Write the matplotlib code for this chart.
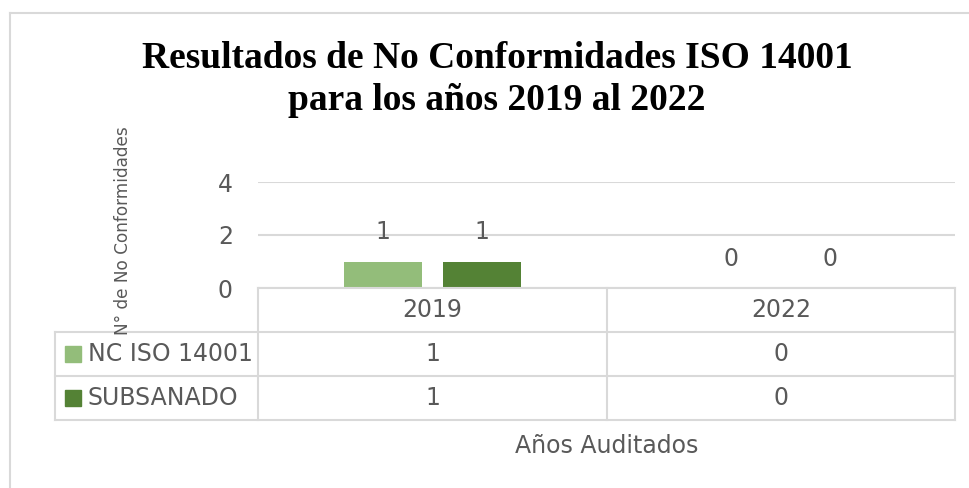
import numpy as np
import matplotlib.pyplot as plt
from matplotlib.lines import Line2D
from matplotlib.patches import Rectangle

years = ['2019', '2022']
series = ['NC ISO 14001', 'SUBSANADO']
nc_iso = [1, 0]
subsanado = [1, 0]
colors = ['#93BD7A', '#548235']
yticks = [0, 2, 4]

W, H = 970, 488
txt = '#595959'
grid = '#D9D9D9'

def fx(x):
    return x / W

def fy(y):
    return 1 - y / H

fig = plt.figure(figsize=(9.7, 4.88), dpi=100)

# plot area in pixels
left, right, top, bottom = 258, 955, 182, 288
ax = fig.add_axes([fx(left), fy(bottom), fx(right - left), (bottom - top) / H])
ax.set_xlim(-0.5, 1.5)
ax.set_ylim(0, 4)
ax.set_yticks(yticks)
ax.set_xticks([])
ax.tick_params(axis='y', length=0, pad=18, labelsize=17, labelcolor=txt)
for s in ax.spines.values():
    s.set_visible(False)
ax.grid(axis='y', color=grid, lw=1.5)
ax.set_axisbelow(True)

x = np.arange(len(years))
off = 0.142
bw = 0.224
for i, vals in enumerate([nc_iso, subsanado]):
    pos = x + (i * 2 - 1) * off
    ax.bar(pos, vals, width=bw, color=colors[i], zorder=3)
    for p, v in zip(pos, vals):
        ax.annotate(str(v), (p, v), xytext=(0, 21), textcoords='offset points',
                    ha='center', va='center', fontsize=17, color=txt)

# data table below the axes
col_x = [55, 258, 607, 955]
row_y = [288, 332, 376, 420]

def hline(y, x0, x1):
    fig.add_artist(Line2D([fx(x0), fx(x1)], [fy(y), fy(y)], color=grid, lw=1.5))

def vline(x0, y0, y1):
    fig.add_artist(Line2D([fx(x0), fx(x0)], [fy(y0), fy(y1)], color=grid, lw=1.5))

hline(row_y[0], col_x[1], col_x[3])
for y in row_y[1:]:
    hline(y, col_x[0], col_x[3])
for cx in col_x[1:]:
    vline(cx, row_y[0], row_y[3])
vline(col_x[0], row_y[1], row_y[3])

for j, yr in enumerate(years):
    cx = (col_x[j + 1] + col_x[j + 2]) / 2
    fig.text(fx(cx), fy((row_y[0] + row_y[1]) / 2), yr, ha='center', va='center',
             fontsize=17, color=txt)
for i, vals in enumerate([nc_iso, subsanado]):
    cy = (row_y[i + 1] + row_y[i + 2]) / 2
    fig.add_artist(Rectangle((fx(65), fy(cy + 8)), fx(16), 16 / H, color=colors[i]))
    fig.text(fx(88), fy(cy), series[i], ha='left', va='center', fontsize=17, color=txt)
    for j, v in enumerate(vals):
        cx = (col_x[j + 1] + col_x[j + 2]) / 2
        fig.text(fx(cx), fy(cy), str(v), ha='center', va='center', fontsize=17, color=txt)

# axis titles
fig.text(fx(607), fy(446), 'Años Auditados', ha='center', va='center', fontsize=17, color=txt)
fig.text(fx(123), fy(231), 'N° de No Conformidades', ha='center', va='center',
         rotation=90, fontsize=12.2, color=txt)

# chart title
fig.text(fx(497), fy(58), 'Resultados de No Conformidades ISO 14001', ha='center', va='center',
         fontsize=27, fontweight='bold', family='Liberation Serif', color='black')
fig.text(fx(497), fy(101), 'para los años 2019 al 2022', ha='center', va='center',
         fontsize=27, fontweight='bold', family='Liberation Serif', color='black')

# chart frame
fig.add_artist(Line2D([fx(10), fx(10)], [fy(13), 0], color=grid, lw=1.5))
fig.add_artist(Line2D([fx(10), 1], [fy(13), fy(13)], color=grid, lw=1.5))

fig.savefig('out.png', dpi=100)
